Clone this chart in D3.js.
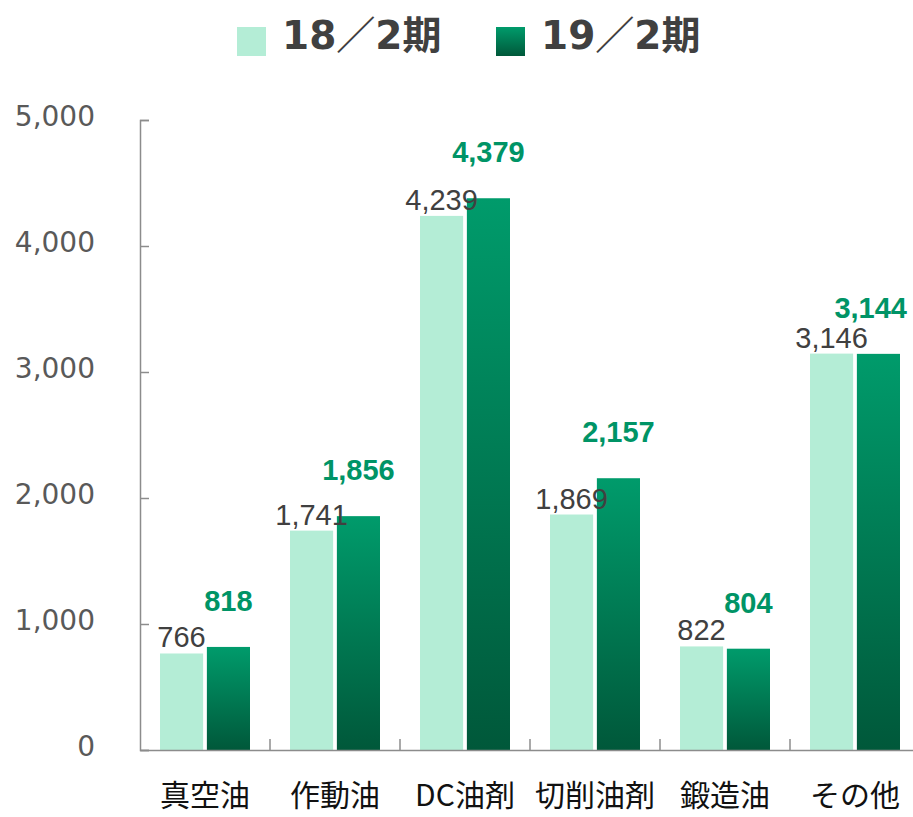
<!DOCTYPE html>
<html>
<head>
<meta charset="utf-8">
<script src="https://cdn.jsdelivr.net/npm/d3@7"></script>
<style>
  body { margin: 0; background: #fff; }
  svg { display: block; }
</style>
</head>
<body>
<svg width="913" height="817"></svg>
<script>
const width = 913, height = 817;
const svg = d3.select("svg");

// data
const categories = ["真空油", "作動油", "DC油剤", "切削油剤", "鍛造油", "その他"];
const seriesNames = ["18／2期", "19／2期"];
const values18 = [766, 1741, 4239, 1869, 822, 3146];
const values19 = [818, 1856, 4379, 2157, 804, 3144];
const yTicks = [0, 1000, 2000, 3000, 4000, 5000];

const data = categories.map((c, i) => ({ cat: c, v18: values18[i], v19: values19[i] }));

const axisColor = "#8c8c8c";
const lightFill = "#b4edd6";
const greenText = "#009466";

// scales
const x = d3.scaleBand()
    .domain(categories)
    .range([140, 920])
    .padding(0);

const x1 = d3.scaleBand()
    .domain(seriesNames)
    .range([20, 110])
    .paddingInner(0.08);

const y = d3.scaleLinear()
    .domain([0, 5000])
    .range([750, 120]);

// gradient for the dark bars
const defs = svg.append("defs");
const grad = defs.append("linearGradient")
    .attr("id", "darkGrad")
    .attr("x1", 0).attr("y1", 0)
    .attr("x2", 0).attr("y2", 1);
grad.append("stop").attr("offset", "0%").attr("stop-color", "#009b6b");
grad.append("stop").attr("offset", "100%").attr("stop-color", "#00583a");

// y axis
const yAxis = svg.append("g")
    .attr("transform", "translate(140,0)")
    .call(d3.axisLeft(y)
        .tickValues(yTicks)
        .tickFormat(d3.format(","))
        .tickSize(-9)
        .tickPadding(45));
yAxis.select(".domain").attr("stroke", axisColor).attr("stroke-width", 1.5);
yAxis.selectAll(".tick line").attr("stroke", axisColor).attr("stroke-width", 1.5);
yAxis.selectAll(".tick text")
    .attr("fill", "#595959")
    .attr("dy", "0.2em")
    .style("font-family", "'DejaVu Sans', sans-serif")
    .style("font-size", "28px");

// bars
const groups = svg.selectAll(".cat")
    .data(data)
    .enter().append("g")
    .attr("class", "cat")
    .attr("transform", d => `translate(${x(d.cat)},0)`);

groups.append("rect")
    .attr("x", x1(seriesNames[0]))
    .attr("y", d => y(d.v18))
    .attr("width", x1.bandwidth())
    .attr("height", d => y(0) - y(d.v18))
    .attr("fill", lightFill);

groups.append("rect")
    .attr("x", x1(seriesNames[1]))
    .attr("y", d => y(d.v19))
    .attr("width", x1.bandwidth())
    .attr("height", d => y(0) - y(d.v19))
    .attr("fill", "url(#darkGrad)");

// value labels
groups.append("text")
    .attr("x", x1(seriesNames[0]) + x1.bandwidth() / 2)
    .attr("y", d => y(d.v18) - 6)
    .attr("text-anchor", "middle")
    .attr("fill", "#404040")
    .style("font-family", "'Liberation Sans', Arial, sans-serif")
    .style("font-size", "29px")
    .text(d => d3.format(",")(d.v18));

groups.append("text")
    .attr("class", "lbl19")
    .attr("x", x1(seriesNames[1]) + x1.bandwidth() / 2)
    .attr("y", d => y(d.v19) - 36)
    .attr("text-anchor", "middle")
    .attr("fill", greenText)
    .style("font-family", "'Liberation Sans', Arial, sans-serif")
    .style("font-size", "29px")
    .style("font-weight", "bold")
    .text(d => d3.format(",")(d.v19));

// keep labels inside the picture (like the original does at the right edge)
groups.selectAll(".lbl19").each(function(d) {
    const half = this.getComputedTextLength() / 2;
    const cx = x(d.cat) + x1(seriesNames[1]) + x1.bandwidth() / 2;
    const maxX = width - 6 - half;
    if (cx > maxX) d3.select(this).attr("x", maxX - x(d.cat));
});

// x axis
const xAxis = svg.append("g")
    .attr("transform", `translate(0,${y(0)})`)
    .call(d3.axisBottom(x).tickSize(0).tickPadding(35));
xAxis.select(".domain").attr("stroke", axisColor).attr("stroke-width", 1.5);
xAxis.selectAll(".tick text")
    .attr("fill", "#111")
    .style("font-family", "'Noto Sans CJK JP', sans-serif")
    .style("font-size", "30px");

// category separators
xAxis.selectAll(".sep")
    .data(categories.slice(1))
    .enter().append("line")
    .attr("class", "sep")
    .attr("x1", d => x(d)).attr("x2", d => x(d))
    .attr("y1", 0).attr("y2", -11)
    .attr("stroke", axisColor)
    .attr("stroke-width", 1.5);

// legend
const legend = svg.append("g").attr("transform", "translate(237,27)");
const legendX = [0, 259];

const lg = defs.append("linearGradient")
    .attr("id", "legendGrad")
    .attr("x1", 0).attr("y1", 0)
    .attr("x2", 0).attr("y2", 1);
lg.append("stop").attr("offset", "0%").attr("stop-color", "#009b6b");
lg.append("stop").attr("offset", "100%").attr("stop-color", "#00583a");
const legendFill = [lightFill, "url(#legendGrad)"];

seriesNames.forEach((s, i) => {
    const item = legend.append("g").attr("transform", `translate(${legendX[i]},0)`);
    item.append("rect")
        .attr("width", 29)
        .attr("height", 29)
        .attr("fill", legendFill[i]);
    item.append("text")
        .attr("x", 45)
        .attr("y", 22)
        .attr("fill", "#404040")
        .style("font-family", "'DejaVu Sans', 'Noto Sans CJK JP', sans-serif")
        .style("font-size", "39px")
        .style("font-weight", "bold")
        .text(s);
});
</script>
</body>
</html>
